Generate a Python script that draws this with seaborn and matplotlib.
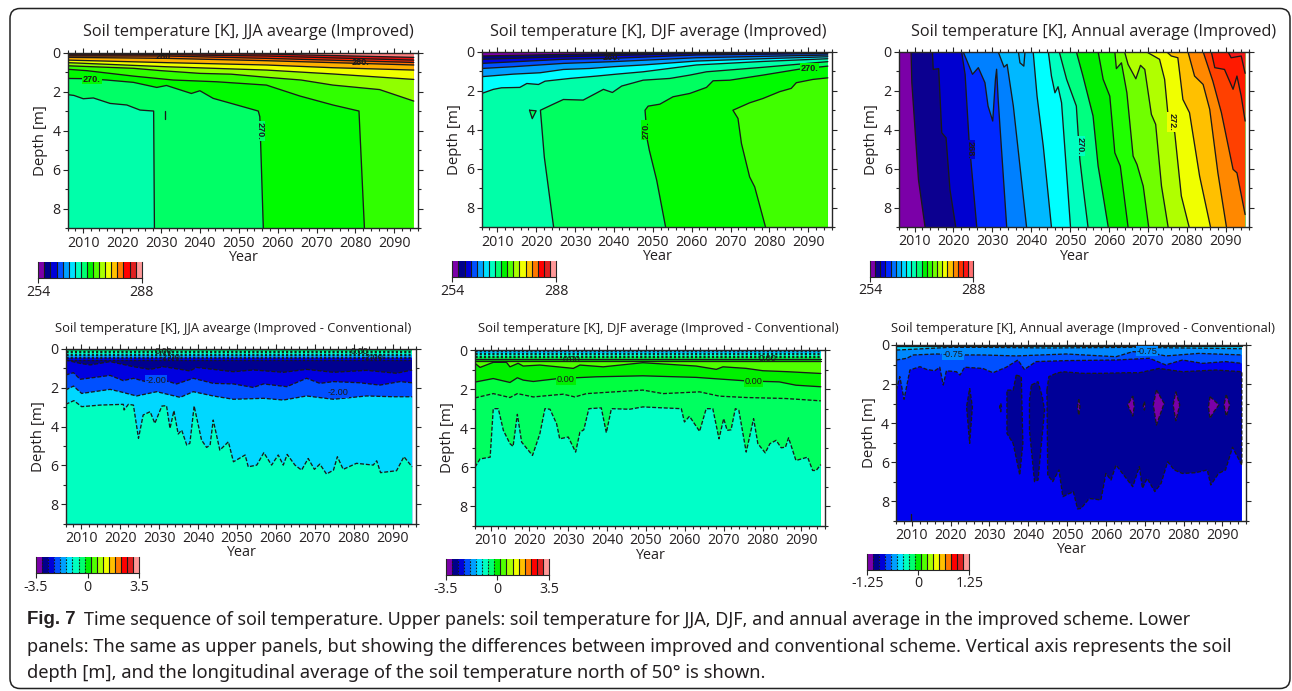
import numpy as np
import seaborn as sns
import matplotlib.pyplot as plt
from matplotlib.colors import ListedColormap
from matplotlib.patches import FancyBboxPatch
from matplotlib.ticker import MultipleLocator

OUT_PATH = "out.png"
W, H = 1292, 691
Y0, Y1, YMAX = 2006, 2095, 2096

TITLES = [
    "Soil temperature [K], JJA avearge (Improved)",
    "Soil temperature [K], DJF average (Improved)",
    "Soil temperature [K], Annual average (Improved)",
    "Soil temperature [K], JJA avearge (Improved - Conventional)",
    "Soil temperature [K], DJF average (Improved - Conventional)",
    "Soil temperature [K], Annual average (Improved - Conventional)",
]

# colour bar levels
BAR17 = ["#7b00a8", "#00008c", "#0000d8", "#0050ff", "#00a0ff", "#00e0ff", "#00ffc0",
         "#00ff70", "#00f000", "#50ff00", "#a8ff00", "#f0ff00", "#ffc000", "#ff7800",
         "#ff0000", "#e02020", "#ff9898"]
BAR20 = ["#7b00a8", "#0c0090", "#0000d0", "#0028ff", "#0070ff", "#00a8ff", "#00d8ff",
         "#00ffe8", "#00ffb0", "#00ff70", "#00f000", "#30ff00", "#70ff00", "#b0ff00",
         "#f0ff00", "#ffc000", "#ff8800", "#ff3000", "#ff1414", "#ff7070"]

# isotherms as (years, depths), shallow ones first
JJA_ISO = [
    ([2006, 2031.4, 2057.1, 2095], [0.07, 0.05, 0.07, 0.24]),
    ([2006, 2031.4, 2057.1, 2095], [0.12, 0.10, 0.17, 0.38]),
    ([2006, 2031.4, 2057.1, 2095], [0.17, 0.17, 0.29, 0.50]),
    ([2006, 2031.4, 2057.1, 2095], [0.24, 0.29, 0.41, 0.63]),
    ([2006, 2031.4, 2057.1, 2074.2, 2095], [0.38, 0.51, 0.63, 0.77, 0.89]),
    ([2006, 2031.4, 2057.1, 2074.2, 2095], [0.51, 0.72, 0.89, 1.09, 1.37]),
    ([2006, 2022.9, 2030, 2040, 2048, 2057.1, 2066, 2074.2, 2086.2, 2095],
     [0.67, 0.80, 0.92, 1.06, 1.10, 1.26, 1.40, 1.66, 1.89, 2.48]),
    ([2006, 2010.9, 2022.9, 2033.1, 2044.3, 2057.1, 2065.7, 2074.2, 2080.9, 2082.3],
     [0.85, 0.92, 1.20, 1.40, 1.49, 1.66, 2.22, 2.68, 2.99, 9]),
    ([2006, 2010, 2016, 2022.9, 2028.9, 2031.4, 2037.8, 2040, 2043.4, 2048.6, 2055, 2055.4, 2056.3],
     [1.32, 1.33, 1.40, 1.52, 1.78, 1.68, 2.09, 1.95, 2.34, 2.63, 2.99, 3.28, 9]),
    ([2006, 2007.6, 2010, 2012.6, 2016.9, 2021.2, 2024.6, 2028.1, 2028.3],
     [2.15, 2.19, 2.36, 2.32, 2.60, 2.68, 2.94, 2.99, 9]),
]
JJA_COLORS = ["#e81010", "#ff2800", "#ff7000", "#ffb000", "#f0ff00", "#90ff00", "#30ff00",
              "#00fb00", "#00ff66", "#00ffaa"]
JJA_TOP = "#ff8080"
JJA_EXTRA = [([2031, 2031], [3.0, 3.4])]
JJA_LABELS = [("280.", 2031, 0.2, 0), ("280.", 2081.3, 0.5, 0), ("270.", 2012.2, 1.35, 0),
              ("270.", 2055.4, 4.0, -90)]
JJA_LABEL_BG = [None, None, "#00fb00", "#00ff66"]

DJF_ISO = [
    ([2006, 2027, 2061.2, 2078.3, 2095], [0.22, 0.14, 0.03, 0.02, 0.01]),
    ([2006, 2027, 2061.2, 2095], [0.39, 0.26, 0.09, 0.03]),
    ([2006, 2027, 2039.8, 2061.2, 2095], [0.60, 0.39, 0.34, 0.17, 0.09]),
    ([2006, 2014.1, 2027, 2039.8, 2061.2, 2095], [0.86, 0.77, 0.60, 0.51, 0.31, 0.17]),
    ([2006, 2014.1, 2021, 2027, 2033.8, 2039.8, 2047.5, 2061.2, 2078.3, 2095],
     [1.28, 1.15, 1.08, 0.91, 0.86, 0.77, 0.68, 0.48, 0.36, 0.26]),
    ([2006, 2009, 2011.1, 2015.8, 2017.6, 2020.6, 2022.3, 2028.7, 2035.5, 2040.7, 2047.5, 2061.2, 2078.3, 2095],
     [2.14, 1.93, 1.85, 1.83, 1.63, 1.68, 1.51, 1.37, 1.25, 1.15, 1.03, 0.68, 0.50, 0.36]),
    ([2024.5, 2022.1, 2021.1, 2024.4, 2027, 2032.1, 2037.3, 2039.6, 2042, 2047.5, 2054.4, 2059.5, 2063.8, 2078.3, 2095],
     [9, 5.40, 3.0, 2.69, 2.45, 2.48, 1.93, 2.09, 1.76, 1.46, 1.37, 1.20, 1.03, 0.80, 0.51]),
    ([2053.3, 2051, 2049.1, 2048.6, 2048, 2048.8, 2051.8, 2055.2, 2059.5, 2063.8, 2065.5, 2069.8, 2078.3, 2087.8, 2095],
     [9, 6.59, 5.05, 4.54, 3.0, 2.79, 2.69, 2.31, 2.14, 1.83, 1.49, 1.46, 1.20, 0.89, 0.74]),
    ([2079, 2076.2, 2074.9, 2072.8, 2071.9, 2070.6, 2074.9, 2078.3, 2082.6, 2085.6, 2086.9, 2091.2, 2095],
     [9, 6.93, 6.42, 4.71, 3.42, 3.0, 2.62, 2.40, 2.05, 1.88, 1.59, 1.42, 1.34]),
]
DJF_COLORS = ["#00008c", "#0000e0", "#0050ff", "#00a0ff", "#00ffff", "#00ffa8", "#00ff60",
              "#00fb00", "#40ff00"]
DJF_TOP = "#7b00a8"
DJF_TRIANGLE = ([2018.3, 2020, 2019, 2018.3], [3.0, 3.03, 3.43, 3.0])
DJF_LABELS = [("260.", 2039.4, 0.29, 0), ("270.", 2090.3, 0.86, 0), ("270.", 2048.4, 4.02, 90)]
DJF_LABEL_BG = [None, "#00fb00", "#00fb00"]

ANN_ISO = [
    ([2009.1, 2009.3, 2011, 2012.7], [0, 1.59, 6.56, 9]),
    ([2014.6, 2014.8, 2016.2, 2017, 2018.1, 2019.1, 2020.6], [0, 0.91, 0.87, 4.16, 4.42, 7.07, 9]),
    ([2022.1, 2023, 2024, 2026], [0, 1.16, 4.5, 9]),
    ([2022.5, 2024.9, 2026.4, 2028.1, 2028.9, 2030.1, 2030.8, 2031.1, 2031.5, 2033.7],
     [0, 1.16, 0.82, 1.59, 2.79, 3.56, 1.42, 0.9, 2.45, 9]),
    ([2031.5, 2033, 2033.8, 2035.4, 2037.1, 2038.8], [0, 0.79, 0.65, 2.79, 5.87, 9]),
    ([2040.5, 2041.5, 2043.1, 2045.2], [0, 2.28, 4.85, 9]),
    ([2044.4, 2045.2, 2046.1, 2046.9, 2047.8, 2049.1, 2050.1], [0, 1.25, 2.11, 1.8, 2.62, 6.22, 9]),
    ([2047.2, 2049.1, 2051.6, 2052.5, 2053.3, 2054.6], [0, 1.42, 2.79, 5.53, 6.9, 9]),
    ([2051.6, 2053.3, 2055.9, 2057.2, 2058.5, 2059.8], [0, 1.25, 3.3, 5.87, 7.41, 9]),
    ([2057.2, 2058.5, 2060.2, 2061.5, 2062.9, 2064.9], [0, 1.42, 2.28, 5.19, 5.87, 9]),
    ([2061.5, 2061.9, 2063.2, 2064.6, 2066.2, 2067.2, 2068.8, 2070.2],
     [0, 0.87, 0.57, 2.11, 5.36, 5.79, 6.9, 9]),
    ([2064, 2064.9, 2066.9, 2068.1, 2069.2, 2070.9, 2072, 2073.5, 2075.2],
     [0, 0.65, 1.39, 0.7, 0.91, 3.22, 3.73, 6.9, 9]),
    ([2070, 2073, 2074.3, 2075.2, 2076.9, 2078.6, 2080.6], [0.05, 0.39, 1.42, 3.3, 4.16, 7.41, 9]),
    ([2074.8, 2076, 2077.7, 2079, 2080.7, 2083.3, 2086.1], [0, 0.22, 0.31, 2.45, 3.13, 6.39, 9]),
    ([2080.3, 2082, 2084.2, 2085.9, 2088, 2090.2], [0, 1.25, 1.68, 2.96, 6.22, 9]),
    ([2084.2, 2086.7, 2088.9, 2091.9, 2092.9, 2095], [0, 1.51, 3.13, 6.04, 6.22, 8.36]),
    ([2086.3, 2087.2, 2089.7, 2091.9, 2092.9, 2094, 2095], [0, 0.82, 0.91, 1.93, 1.25, 2.28, 3.56]),
    ([2090.6, 2091.4, 2094, 2095], [0, 0.31, 0.22, 1.11]),
]
ANN_COLORS = ["#0c0090", "#0000d0", "#0028ff", "#0080ff", "#00b8ff", "#00ffff", "#00ffc0",
              "#00ff80", "#00f000", "#20ff00", "#70ff00", "#b0ff00", "#f0ff00", "#ffc000",
              "#ff8800", "#ff4000", "#ff1a00", "#f41818"]
ANN_LEFT = "#7b00a8"
ANN_EXTRA = [([2036.7, 2037.1, 2038.1, 2038.4], [0, 0.57, 0.74, 0])]
ANN_LABELS = [("268.", 2024.2, 5.02, -90), ("270.", 2052.5, 4.85, -90), ("272.", 2076.3, 3.61, -90)]
ANN_LABEL_BG = ["#0000d0", "#00ffc0", "#f0ff00"]

DJJA_ISO = [
    ([2006, 2009.7, 2012.3, 2017.4, 2023.4, 2027.7, 2031.1, 2037.9, 2039.6, 2049.1, 2054.2, 2061.9, 2067.9, 2074.8, 2083.3, 2091, 2095],
     [0.57, 0.74, 0.82, 0.65, 0.91, 1.05, 0.91, 1.13, 0.95, 1.17, 1.08, 1.2, 1.05, 1.2, 1.1, 1.25, 1.08]),
    ([2006, 2008, 2009.7, 2014.8, 2017.4, 2020.8, 2023.4, 2027.7, 2031.1, 2034.5, 2038.8, 2043.9, 2049.1, 2054.2, 2056.8, 2062.8, 2067.9, 2071.3, 2074.8, 2081.6, 2086.7, 2091.9, 2095],
     [1.34, 1.22, 1.56, 1.43, 1.36, 1.63, 1.51, 1.74, 1.6, 1.8, 1.51, 1.77, 1.8, 1.98, 1.8, 1.94, 1.51, 1.77, 1.68, 1.74, 1.86, 1.68, 1.74]),
    ([2006, 2008, 2010.1, 2017.4, 2020, 2024.2, 2029.4, 2035.4, 2038.8, 2043.9, 2049.1, 2056.8, 2061.9, 2067.9, 2074.8, 2083.3, 2090.2, 2095],
     [2.11, 1.91, 2.29, 2.08, 2.2, 2.42, 2.2, 2.49, 2.2, 2.42, 2.59, 2.54, 2.63, 2.42, 2.59, 2.42, 2.46, 2.46]),
    ([2006, 2008.1, 2010.1, 2014.8, 2020.8, 2021, 2022.1, 2023.4, 2024.7, 2025.9, 2027.7, 2028.9, 2030.7, 2031.9, 2032.8, 2033.8, 2034.9, 2035.8, 2037.1, 2037.9, 2039, 2040.9, 2042.2, 2043.1, 2043.9, 2045.6, 2047.8, 2049.1, 2052.1, 2052.9, 2055.1, 2056.9, 2058.9, 2060.6, 2061.9, 2062.9, 2064.9, 2066.6, 2068.3, 2069.9, 2071.3, 2073, 2074.8, 2075.8, 2077.3, 2080.7, 2085, 2085.9, 2086.9, 2091, 2092.9, 2095],
     [2.85, 2.66, 2.97, 2.89, 2.85, 3.14, 2.85, 2.89, 4.6, 3.4, 3.23, 3.83, 2.94, 2.92, 4.09, 3.18, 4.38, 4.18, 4.95, 4.86, 2.94, 4.69, 5.07, 4.95, 3.66, 5.21, 4.78, 5.81, 5.46, 6.07, 5.98, 5.34, 5.98, 5.46, 5.98, 5.43, 5.98, 6.24, 5.64, 6.2, 5.93, 6.44, 6.24, 5.55, 6.2, 5.89, 5.98, 5.76, 6.37, 6.27, 5.55, 6.07]),
]
DJJA_COLORS = ["#0000e0", "#0050ff", "#00d8ff", "#00ffc0"]
DJJA_TOP = "#000090"
DJJA_BAND_DEPTHS = [0, 0.08, 0.16, 0.24, 0.32, 0.40, 0.48, 0.55]
DJJA_BAND_COLORS = ["#00c070", "#00ff90", "#00ffc0", "#00e8e8", "#00a8ff", "#0060ff", "#0000e0"]
DJJA_LABELS = [("0.00", 2031.1, 0.12, 0), ("0.00", 2081.6, 0.12, 0), ("-2.00", 2032.8, 0.45, 0),
               ("-2.00", 2085, 0.45, 0), ("-2.00", 2029.2, 1.6, 0), ("-2.00", 2076, 2.25, 0)]
DJJA_LABEL_BG = [None, None, None, None, "#0050ff", "#0050ff"]

DDJF_ISO = [
    ([2006, 2007.3, 2010.7, 2014.1, 2015, 2017.1, 2018.4, 2022.7, 2031.3, 2033, 2039, 2049.2, 2062.9, 2068.1, 2069.8, 2075.8, 2080.1, 2086.5, 2095],
     [0.68, 0.89, 0.63, 0.63, 0.86, 0.68, 0.82, 0.77, 0.94, 0.77, 0.86, 0.65, 0.82, 0.99, 0.86, 0.94, 1.06, 1.11, 1.2]),
    ([2006, 2010.7, 2015, 2016.9, 2018.4, 2021, 2027.4, 2037.3, 2049.2, 2062.9, 2075.8, 2084.3, 2088.6, 2095],
     [1.64, 1.46, 1.66, 1.42, 1.54, 1.61, 1.46, 1.37, 1.32, 1.4, 1.58, 1.63, 1.8, 1.88]),
    ([2006, 2010.7, 2015, 2016.9, 2021, 2028.7, 2031.7, 2034.7, 2049.2, 2054.4, 2063.8, 2068.9, 2075.8, 2085.9, 2095],
     [2.45, 2.23, 2.43, 2.23, 2.4, 2.26, 2.4, 2.23, 2.05, 2.23, 2.14, 2.36, 2.43, 2.48, 2.6]),
    ([2006, 2007.3, 2009.9, 2010.7, 2012, 2013.3, 2015, 2015.8, 2016.9, 2018, 2020.8, 2022.7, 2024, 2025.3, 2027, 2027.8, 2030, 2031.9, 2033, 2034, 2035.3, 2038.5, 2039.8, 2041.1, 2045.8, 2049.2, 2054.4, 2059.1, 2059.9, 2061.2, 2063.8, 2065.5, 2067.2, 2068.8, 2070, 2070.9, 2071.9, 2073, 2073.9, 2075.8, 2077.7, 2078.8, 2080.7, 2081.9, 2083.5, 2084.8, 2085.9, 2086.7, 2088.6, 2091.6, 2092.9, 2093.8, 2095],
     [5.99, 5.57, 5.48, 3, 3, 4.11, 4.79, 4.93, 3.29, 4.71, 5.39, 4.28, 3, 3.03, 3.77, 4.54, 4.45, 5.22, 4.2, 4.08, 3, 2.96, 4.23, 3, 3.03, 2.91, 2.96, 3, 3.68, 3.39, 4.16, 3, 3, 4.54, 3.51, 4.11, 4.08, 3, 3.08, 5.22, 3.51, 4.79, 5.26, 4.79, 4.62, 5, 4.97, 4.49, 5.65, 5.48, 6.16, 6.16, 5.86]),
]
DDJF_COLORS = ["#00f000", "#00ff40", "#00ff60", "#00ffc8"]
DDJF_TOP = "#50ff00"
DDJF_STYLES = ["-", "-", "--", "--"]
DDJF_BAND_DEPTHS = [0, 0.05, 0.13, 0.21, 0.29, 0.37, 0.45, 0.57]
DDJF_BAND_COLORS = ["#0090e8", "#00c0ff", "#00e8f0", "#00ffc8", "#00ff90", "#00ff50", "#00d800"]
DDJF_LABELS = [("0.00", 2030.8, 0.51, 0), ("0.00", 2081.3, 0.46, 0), ("0.00", 2029.4, 1.51, 0),
               ("0.00", 2077.7, 1.63, 0)]
DDJF_LABEL_BG = [None, None, "#00f000", "#00f000"]

DANN_ISO = [
    ([2006, 2095], [0.04, 0.04]),
    ([2006, 2019.8, 2028.3, 2045.5, 2067.7, 2095], [0.26, 0.12, 0.12, 0.15, 0.12, 0.19]),
    ([2006, 2008.7, 2010.4, 2016.4, 2022.4, 2028.3, 2036.9, 2049.8, 2062.6, 2066.9, 2071.2, 2075.4, 2083.9, 2095],
     [0.77, 0.68, 0.51, 0.46, 0.51, 0.51, 0.56, 0.46, 0.6, 0.34, 0.39, 0.56, 0.43, 0.51]),
    ([2006, 2006.9, 2008, 2009.5, 2012.1, 2013.8, 2015.9, 2017.2, 2018.1, 2018.9, 2021.5, 2022.4, 2023.6, 2028.3, 2030.9, 2034.3, 2037.3, 2039, 2042, 2049.8, 2062.6, 2071.2, 2075.4, 2079.7, 2084.9, 2090.8, 2095],
     [2.31, 1.62, 2.78, 1.28, 1.11, 1.25, 1.32, 1.14, 2.05, 1.32, 1.37, 1.54, 1.14, 1.2, 1.42, 1.14, 0.77, 1.25, 0.85, 0.8, 0.77, 0.68, 1.02, 0.77, 0.94, 0.85, 0.94]),
]
DANN_COLORS = ["#00d0ff", "#0088ff", "#0050ff", "#0000f0"]
DANN_TOP = "#00c8b0"
NAVY_SPOTS = [
    ([2044.8, 2045.3, 2047.2, 2048.9, 2054, 2059.2, 2065.2, 2068.6, 2073.7, 2079.7, 2088.3, 2095, 2095, 2092.6, 2090.8, 2089, 2087, 2086.1, 2083.1, 2079.7, 2077.6, 2075.9, 2074.2, 2072.6, 2070.6, 2069.4, 2068.6, 2066.9, 2062.6, 2061.3, 2060, 2058.7, 2055.7, 2053.6, 2052.7, 2051.6, 2048.9, 2047.9, 2046.3, 2045, 2044.8],
     [2.31, 1.62, 1.45, 1.37, 1.45, 1.45, 1.42, 1.42, 1.2, 1.37, 1.28, 1.37, 6.15, 5.24, 6.4, 6.58, 7.17, 6.4, 6.54, 6.58, 6.4, 5.98, 7.09, 7.51, 6.83, 7.34, 6.23, 7.26, 6.15, 6.92, 6.58, 7.94, 7.86, 8.37, 8.4, 7.51, 7.77, 6.4, 7.0, 6.66, 2.31]),
    ([2036.9, 2038.2, 2038.6, 2037.8, 2036.1, 2034.5, 2034.5, 2036.1, 2036.9],
     [1.54, 1.62, 5.04, 6.66, 5.04, 4.53, 2.31, 2.31, 1.54]),
    ([2040.8, 2042.5, 2043.6, 2044.2, 2042.5, 2041.6, 2040.3, 2040.3, 2040.8],
     [2.05, 1.88, 2.65, 3.33, 6.92, 7.0, 4.36, 2.82, 2.05]),
    ([2024.9, 2025.6, 2024.9, 2024.1, 2024.9], [2.22, 3.16, 5.04, 3.16, 2.22]),
    ([2032.9, 2033.1, 2032.9, 2032.6, 2032.9], [2.99, 3.16, 3.42, 3.16, 2.99]),
]
PURPLE_SPOTS = [
    ([2053, 2053.3, 2053, 2052.7, 2053], [2.78, 3.16, 3.59, 3.16, 2.78]),
    ([2066.9, 2067.3, 2066.9, 2065.6, 2066.9], [2.61, 3.16, 3.64, 3.07, 2.61]),
    ([2073, 2075, 2073, 2072.2, 2073], [2.31, 2.99, 4.1, 3.07, 2.31]),
    ([2078, 2079, 2078, 2077.3, 2078], [2.39, 3.07, 3.88, 3.07, 2.39]),
    ([2086.8, 2087.8, 2089.1, 2087.8, 2086.8, 2086.4, 2086.8], [2.65, 2.82, 3.07, 3.42, 3.76, 3.16, 2.65]),
    ([2091, 2091.9, 2091, 2090.4, 2091], [2.56, 3.07, 3.64, 3.07, 2.56]),
    ([2069.9, 2070.1, 2069.9, 2069.6, 2069.9], [2.9, 3.13, 3.33, 3.13, 2.9]),
]
DANN_EXTRA = [([2009.9, 2009.9], [8.66, 9])]
DANN_LABELS = [("-0.75", 2020.6, 0.51, 0), ("-0.75", 2070.6, 0.31, 0)]
DANN_LABEL_BG = ["#0088ff", "#0088ff"]

CAPTION_BOLD = "Fig. 7"
CAPTION = [
    "Time sequence of soil temperature. Upper panels: soil temperature for JJA, DJF, and annual average in the improved scheme. Lower",
    "panels: The same as upper panels, but showing the differences between improved and conventional scheme. Vertical axis represents the soil",
    "depth [m], and the longitudinal average of the soil temperature north of 50\u00b0 is shown.",
]

TEXT = "#231f20"
DASH = (0, (3, 1.4))


def px_axes(fig, left, top, right, bottom, **kw):
    return fig.add_axes([left / W, 1 - bottom / H, (right - left) / W, (bottom - top) / H], **kw)


def draw_line(ax, years, depths, ls="-"):
    sns.lineplot(x=years, y=depths, sort=False, estimator=None, color="k",
                 linewidth=0.95, linestyle=ls, ax=ax)


def fill_below(ax, years, depths, color):
    ax.fill(list(years) + [years[-1], years[0]], list(depths) + [9, 9],
            color=color, linewidth=0, zorder=1)


def fill_right(ax, years, depths, color):
    ax.fill(list(years) + [Y1, Y1], list(depths) + [9, 0], color=color, linewidth=0, zorder=1)


def layered(ax, iso, colors, top, styles=None, side=fill_below):
    ax.fill_between([Y0, Y1], 0, 9, color=top, linewidth=0, zorder=0.5)
    for (yrs, deps), c in zip(iso, colors):
        side(ax, yrs, deps, c)
    for i, (yrs, deps) in enumerate(iso):
        draw_line(ax, yrs, deps, styles[i] if styles else "-")


def bands(ax, depths, colors, solid_from=99):
    for i, c in enumerate(colors):
        ax.fill_between([Y0, Y1], depths[i], depths[i + 1], color=c, linewidth=0, zorder=1.5)
    for i, d in enumerate(depths[1:], start=1):
        draw_line(ax, [Y0, Y1], [d, d], "-" if i >= solid_from else (0, (1.6, 1.6)))


def contour_labels(ax, labels, backgrounds):
    for (txt, x, y, rot), bg in zip(labels, backgrounds):
        box = dict(fc=bg, ec="none", pad=0.6) if bg else None
        ax.text(x, y, txt, rotation=rot, ha="center", va="center", fontsize=6.6,
                fontweight="bold" if txt.endswith(".") else "normal",
                family=["Liberation Sans", "DejaVu Sans"], color="k", bbox=box, zorder=6)


def style_axes(ax):
    ax.set_xlim(Y0, YMAX)
    ax.set_ylim(9, 0)
    ax.xaxis.set_major_locator(MultipleLocator(10))
    ax.xaxis.set_minor_locator(MultipleLocator(2))
    ax.yaxis.set_major_locator(MultipleLocator(2))
    ax.yaxis.set_minor_locator(MultipleLocator(1))
    ax.tick_params(which="major", direction="out", length=3.4, width=0.8, top=True, right=True,
                   labelsize=10.2, pad=1.8, labelcolor=TEXT)
    ax.tick_params(which="minor", direction="out", length=2.2, width=0.8, top=True, right=True)
    for s in ax.spines.values():
        s.set_visible(True)
        s.set_linewidth(1.0)
    ax.set_xlabel("Year", fontsize=10.4, labelpad=-0.4, color=TEXT)
    ax.set_ylabel("Depth [m]", fontsize=10.8, labelpad=3, color=TEXT)


def colorbar(fig, box, colors, ticklabels, dashed_to=0):
    cax = px_axes(fig, *box)
    n = len(colors)
    sns.heatmap(np.arange(n).reshape(1, -1), cmap=ListedColormap(colors), cbar=False, ax=cax,
                xticklabels=False, yticklabels=False)
    for i in range(1, n):
        cax.axvline(i, color="k", lw=0.8, ls=(0, (1.6, 1.2)) if i <= dashed_to else "-")
    ticks = np.linspace(0, n, len(ticklabels))
    cax.set_xticks(ticks)
    cax.set_xticklabels(ticklabels, fontsize=10.2, color=TEXT)
    cax.tick_params(axis="x", length=3.8, width=0.8, pad=0.8, bottom=True)
    cax.set_yticks([])
    for name, s in cax.spines.items():
        s.set_visible(name in ("bottom", "left", "right"))
        s.set_linewidth(0.8)


def main():
    sns.set_theme(style="ticks")
    plt.rcParams["font.family"] = ["Open Sans", "DejaVu Sans"]
    fig = plt.figure(figsize=(W / 100, H / 100), dpi=100, facecolor="white")

    bg = fig.add_axes([0, 0, 1, 1], zorder=-1)
    bg.set_xlim(0, W)
    bg.set_ylim(H, 0)
    bg.axis("off")
    bg.add_patch(FancyBboxPatch((10, 8.5), 1280, 680, boxstyle="round,pad=0,rounding_size=10",
                                fc="white", ec="#222222", lw=1.1))

    for t, (cx, cy, size) in zip(TITLES, [(248, 32, 11.7), (658, 32, 11.7), (1094, 32, 11.7),
                                          (233, 328, 9.35), (658.7, 328, 9.35), (1083, 328, 9.35)]):
        bg.text(cx, cy, t, ha="center", va="center", fontsize=size, color=TEXT)

    ax = px_axes(fig, 67.7, 52.7, 417.7, 228.3)
    layered(ax, JJA_ISO, JJA_COLORS, JJA_TOP)
    for yrs, deps in JJA_EXTRA:
        draw_line(ax, yrs, deps)
    contour_labels(ax, JJA_LABELS, JJA_LABEL_BG)
    style_axes(ax)

    ax = px_axes(fig, 481.7, 51.7, 831.7, 227.3)
    layered(ax, DJF_ISO, DJF_COLORS, DJF_TOP)
    ax.fill(*DJF_TRIANGLE, color="#00ff60", linewidth=0, zorder=1)
    draw_line(ax, *DJF_TRIANGLE)
    contour_labels(ax, DJF_LABELS, DJF_LABEL_BG)
    style_axes(ax)

    ax = px_axes(fig, 899, 51.7, 1249, 227)
    layered(ax, ANN_ISO, ANN_COLORS, ANN_LEFT, side=fill_right)
    for yrs, deps in ANN_EXTRA:
        draw_line(ax, yrs, deps)
    contour_labels(ax, ANN_LABELS, ANN_LABEL_BG)
    style_axes(ax)

    ax = px_axes(fig, 65.7, 349, 416, 523.7)
    layered(ax, DJJA_ISO, DJJA_COLORS, DJJA_TOP, styles=[DASH] * 4)
    bands(ax, DJJA_BAND_DEPTHS, DJJA_BAND_COLORS)
    contour_labels(ax, DJJA_LABELS, DJJA_LABEL_BG)
    style_axes(ax)

    ax = px_axes(fig, 475, 350, 824.7, 526)
    layered(ax, DDJF_ISO, DDJF_COLORS, DDJF_TOP, styles=[s if s == "-" else DASH for s in DDJF_STYLES])
    bands(ax, DDJF_BAND_DEPTHS, DDJF_BAND_COLORS, solid_from=6)
    contour_labels(ax, DDJF_LABELS, DDJF_LABEL_BG)
    style_axes(ax)

    ax = px_axes(fig, 896.3, 345, 1245.7, 520.7)
    layered(ax, DANN_ISO, DANN_COLORS, DANN_TOP, styles=["-", DASH, DASH, DASH])
    for yrs, deps in NAVY_SPOTS:
        ax.fill(yrs, deps, color="#000098", linewidth=0, zorder=1.2)
        draw_line(ax, yrs, deps, DASH)
    for yrs, deps in PURPLE_SPOTS:
        ax.fill(yrs, deps, color="#7b00a8", linewidth=0, zorder=1.3)
        draw_line(ax, yrs, deps, DASH)
    for yrs, deps in DANN_EXTRA:
        draw_line(ax, yrs, deps)
    contour_labels(ax, DANN_LABELS, DANN_LABEL_BG)
    style_axes(ax)

    colorbar(fig, (38.3, 261.5, 141.7, 278.3), BAR17, ["254", "288"])
    colorbar(fig, (452.3, 260.7, 556, 277.3), BAR17, ["254", "288"])
    colorbar(fig, (870, 260.7, 973.3, 277), BAR20, ["254", "288"])
    colorbar(fig, (36, 557.3, 139.3, 573.3), BAR17, ["-3.5", "0", "3.5"], dashed_to=8)
    colorbar(fig, (445.7, 559.3, 549, 575.3), BAR17, ["-3.5", "0", "3.5"], dashed_to=8)
    colorbar(fig, (867.3, 554.3, 969.3, 570), BAR17, ["-1.25", "0", "1.25"], dashed_to=8)

    cap_font = ["Noto Sans", "DejaVu Sans"]
    bg.text(27, 620, CAPTION_BOLD, fontsize=13.4, fontweight="bold",
            family=["Liberation Sans", "DejaVu Sans"], ha="left", va="center", color=TEXT)
    bg.text(84, 620, CAPTION[0], fontsize=12.98, family=cap_font, ha="left", va="center", color=TEXT)
    bg.text(27, 647, CAPTION[1], fontsize=13.15, family=cap_font, ha="left", va="center", color=TEXT)
    bg.text(27, 673, CAPTION[2], fontsize=13.2, family=cap_font, ha="left", va="center", color=TEXT)

    fig.savefig(OUT_PATH, dpi=100, facecolor="white")
    print(f"saved to {OUT_PATH}")


if __name__ == "__main__":
    main()
